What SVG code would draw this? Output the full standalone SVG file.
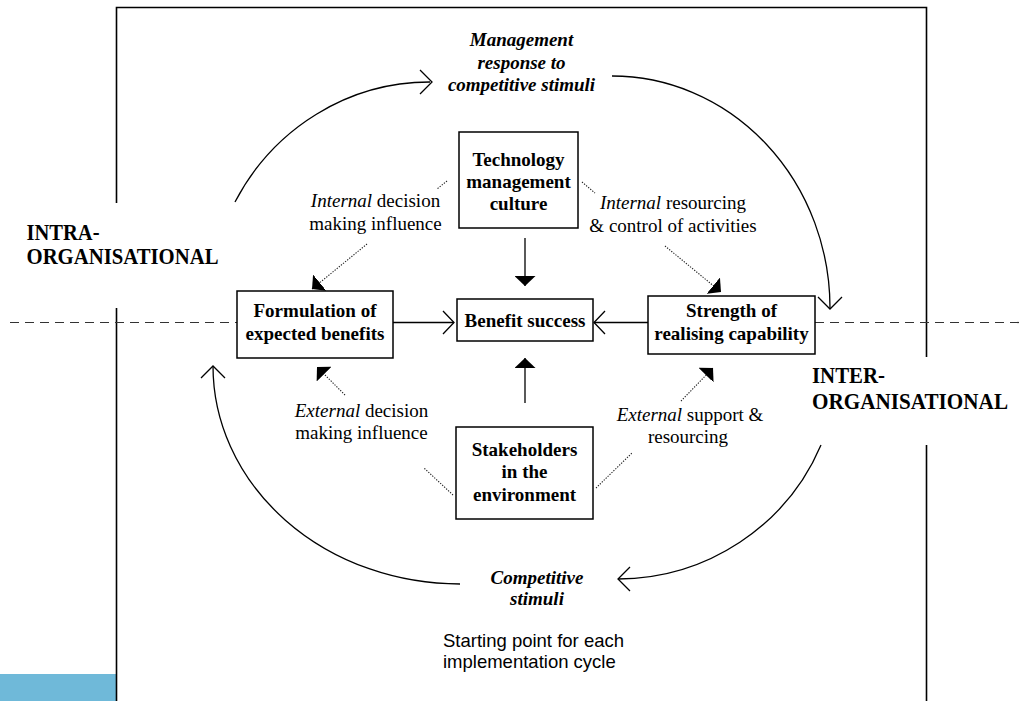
<svg xmlns="http://www.w3.org/2000/svg" width="1024" height="701" viewBox="0 0 1024 701">
  <style>
    .frame { fill: none; stroke: #000; stroke-width: 1.6; }
    .box { fill: #fff; stroke: #000; stroke-width: 1.5; }
    .line { fill: none; stroke: #000; stroke-width: 1.3; }
    .dash { fill: none; stroke: #333; stroke-width: 1.2; stroke-dasharray: 9 6; }
    .dot { fill: none; stroke: #222; stroke-width: 1.1; stroke-dasharray: 1.3 1.4; }
    .node { font-family: "Liberation Serif", "Times New Roman", serif; font-size: 19px; font-weight: bold; text-anchor: middle; fill: #000; }
    .lbl { font-family: "Liberation Serif", "Times New Roman", serif; font-size: 19px; text-anchor: middle; fill: #000; }
    .bi { font-family: "Liberation Serif", "Times New Roman", serif; font-size: 19px; font-weight: bold; font-style: italic; text-anchor: middle; fill: #000; }
    .zone { font-family: "Liberation Serif", "Times New Roman", serif; font-size: 23px; font-weight: bold; fill: #000; }
    .note { font-family: "Liberation Sans", Arial, sans-serif; font-size: 18.5px; fill: #000; }
    .it { font-style: italic; }
  </style>
  <defs>
    <marker id="solidHead" markerUnits="userSpaceOnUse" viewBox="0 0 10 21" refX="10" refY="10.5" markerWidth="10" markerHeight="21" orient="auto">
      <path d="M0,0 L10,10.5 L0,21 Z" fill="#000"/>
    </marker>
  </defs>

  <rect width="1024" height="701" fill="#fff"/>
  <rect x="0" y="674" width="117" height="27" fill="#6fb9d9"/>

  <!-- outer frame, broken where the zone labels sit -->
  <g id="frame">
    <polyline class="frame" points="116.5,203 116.5,7.5 926.5,7.5 926.5,357"/>
    <line class="frame" x1="116.5" y1="308" x2="116.5" y2="701"/>
    <line class="frame" x1="926.5" y1="445" x2="926.5" y2="701"/>
  </g>

  <!-- boundary between the two zones -->
  <g id="boundary">
    <line class="dash" x1="10" y1="322.5" x2="237" y2="322.5"/>
    <line class="dash" x1="815" y1="322.5" x2="1024" y2="322.5"/>
  </g>

  <g id="connectors">
    <!-- outer cycle -->
    <path class="line" d="M235,202 A221,228 0 0 1 430,82"/>
    <path class="line" d="M420,70 L432,82 L420,94"/>
    <path class="line" d="M612,76 A218,232 0 0 1 830,308"/>
    <path class="line" d="M818,297 L830,309 L842,297"/>
    <path class="line" d="M821,445 A221,219 0 0 1 618,579"/>
    <path class="line" d="M630,567 L618,579 L630,591"/>
    <path class="line" d="M460,584 A247,218 0 0 1 213,366"/>
    <path class="line" d="M201,378 L213,366 L225,378"/>

    <!-- flows into benefit success -->
    <line class="line" x1="393" y1="322.5" x2="454" y2="322.5"/>
    <path class="line" d="M443,311 L454,322.5 L443,334"/>
    <line class="line" x1="648" y1="322.5" x2="594" y2="322.5"/>
    <path class="line" d="M605,311 L594,322.5 L605,334"/>
    <line class="line" x1="525" y1="238" x2="525" y2="286" marker-end="url(#solidHead)"/>
    <line class="line" x1="525" y1="403" x2="525" y2="358" marker-end="url(#solidHead)"/>

    <!-- dotted influences -->
    <line class="dot" x1="447" y1="181" x2="437" y2="189"/>
    <line class="dot" x1="367" y1="244" x2="312" y2="289" marker-end="url(#solidHead)"/>
    <line class="dot" x1="582" y1="182" x2="595" y2="193"/>
    <line class="dot" x1="665" y1="246" x2="721" y2="292" marker-end="url(#solidHead)"/>
    <line class="dot" x1="453" y1="495" x2="424" y2="468"/>
    <line class="dot" x1="345" y1="395" x2="317" y2="367" marker-end="url(#solidHead)"/>
    <line class="dot" x1="596" y1="488" x2="632" y2="453"/>
    <line class="dot" x1="681" y1="401" x2="713" y2="368" marker-end="url(#solidHead)"/>
  </g>

  <g id="tech-culture">
    <rect class="box" x="459" y="132" width="119" height="96"/>
    <text class="node" x="518.5" y="165.5">Technology</text>
    <text class="node" x="518.5" y="187.5">management</text>
    <text class="node" x="518.5" y="210">culture</text>
  </g>

  <g id="formulation">
    <rect class="box" x="237" y="291" width="156" height="67"/>
    <text class="node" x="315" y="317">Formulation of</text>
    <text class="node" x="315" y="340">expected benefits</text>
  </g>

  <g id="benefit-success">
    <rect class="box" x="457" y="299" width="136" height="42"/>
    <text class="node" x="525" y="327">Benefit success</text>
  </g>

  <g id="realising-capability">
    <rect class="box" x="648" y="296" width="167" height="58"/>
    <text class="node" x="731.5" y="317">Strength of</text>
    <text class="node" x="731.5" y="340">realising capability</text>
  </g>

  <g id="stakeholders">
    <rect class="box" x="456" y="427" width="137" height="92"/>
    <text class="node" x="524.5" y="456">Stakeholders</text>
    <text class="node" x="524.5" y="478">in the</text>
    <text class="node" x="524.5" y="501">environment</text>
  </g>

  <g id="management-response">
    <text class="bi" x="521.5" y="46">Management</text>
    <text class="bi" x="521.5" y="68.5">response to</text>
    <text class="bi" x="521.5" y="91">competitive stimuli</text>
  </g>

  <g id="competitive-stimuli">
    <text class="bi" x="537" y="584">Competitive</text>
    <text class="bi" x="537" y="605">stimuli</text>
  </g>

  <g id="influence-labels">
    <text class="lbl" x="375.5" y="207"><tspan class="it">Internal</tspan> decision</text>
    <text class="lbl" x="375.5" y="230">making influence</text>
    <text class="lbl" x="673" y="209"><tspan class="it">Internal</tspan> resourcing</text>
    <text class="lbl" x="673" y="232">&amp; control of activities</text>
    <text class="lbl" x="361.5" y="417"><tspan class="it">External</tspan> decision</text>
    <text class="lbl" x="361.5" y="439">making influence</text>
    <text class="lbl" x="690" y="421"><tspan class="it">External</tspan> support &amp;</text>
    <text class="lbl" x="688" y="443">resourcing</text>
  </g>

  <g id="zone-intra">
    <text class="zone" x="26.5" y="239.5" textLength="73" lengthAdjust="spacingAndGlyphs">INTRA-</text>
    <text class="zone" x="26.5" y="263.5" textLength="192" lengthAdjust="spacingAndGlyphs">ORGANISATIONAL</text>
  </g>

  <g id="zone-inter">
    <text class="zone" x="812" y="383" textLength="73" lengthAdjust="spacingAndGlyphs">INTER-</text>
    <text class="zone" x="812" y="408.5" textLength="196" lengthAdjust="spacingAndGlyphs">ORGANISATIONAL</text>
  </g>

  <g id="start-note">
    <text class="note" x="443" y="647">Starting point for each</text>
    <text class="note" x="443" y="668">implementation cycle</text>
  </g>
</svg>
